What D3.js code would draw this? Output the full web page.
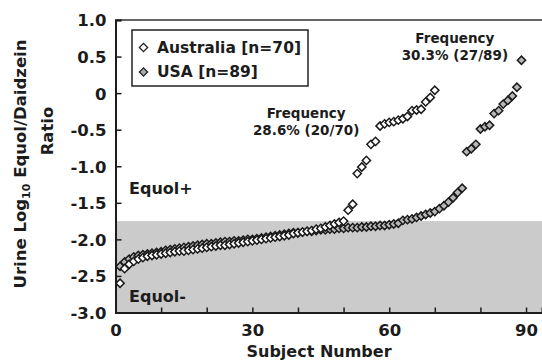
<!DOCTYPE html>
<html>
<head>
<meta charset="utf-8">
<script src="https://cdn.jsdelivr.net/npm/d3@7"></script>
<style>
  body { margin: 0; background: #fff; }
  svg { display: block; font-family: "DejaVu Sans", Verdana, sans-serif; font-weight: bold; }
</style>
</head>
<body>
<svg id="chart" width="542" height="360"></svg>
<script>
// sorted log10 equol/daidzein ratios, one per subject
const australia = [
  -2.60, -2.40, -2.34, -2.30, -2.27, -2.25, -2.23, -2.22, -2.21, -2.20,
  -2.19, -2.18, -2.17, -2.16, -2.16, -2.15, -2.14, -2.13, -2.12, -2.11,
  -2.10, -2.09, -2.08, -2.08, -2.07, -2.06, -2.05, -2.04, -2.03, -2.02,
  -2.01, -2.00, -1.99, -1.98, -1.97, -1.96, -1.95, -1.94, -1.92, -1.91,
  -1.90, -1.89, -1.88, -1.86, -1.85, -1.83, -1.81, -1.79, -1.77, -1.75,
  -1.60, -1.52, -1.10, -1.01, -0.92, -0.70, -0.66, -0.45, -0.42, -0.40,
  -0.39, -0.37, -0.35, -0.32, -0.24, -0.23, -0.22, -0.12, -0.06, 0.04
];
const usa = [
  -2.37, -2.31, -2.27, -2.24, -2.22, -2.21, -2.20, -2.19, -2.18, -2.17,
  -2.15, -2.14, -2.13, -2.12, -2.11, -2.10, -2.09, -2.08, -2.07, -2.06,
  -2.06, -2.05, -2.04, -2.03, -2.03, -2.02, -2.02, -2.01, -2.00, -2.00,
  -1.99, -1.98, -1.97, -1.96, -1.95, -1.94, -1.93, -1.92, -1.91, -1.91,
  -1.90, -1.89, -1.89, -1.88, -1.87, -1.87, -1.86, -1.86, -1.85, -1.85,
  -1.84, -1.84, -1.84, -1.83, -1.83, -1.82, -1.82, -1.81, -1.81, -1.80,
  -1.79, -1.78, -1.74, -1.73, -1.72, -1.70, -1.68, -1.66, -1.64, -1.62,
  -1.58, -1.54, -1.49, -1.43, -1.36, -1.30, -0.80, -0.76, -0.70, -0.49,
  -0.46, -0.44, -0.28, -0.24, -0.15, -0.10, -0.04, 0.08, 0.45
];
const yTicks = [1, 0.5, 0, -0.5, -1, -1.5, -2, -2.5, -3];
const xTicks = [0, 10, 20, 30, 40, 50, 60, 70, 80, 90];
const xLabelled = [0, 30, 60, 90];
const cutoff = -1.75;
const legendItems = ["Australia [n=70]", "USA [n=89]"];
const notes = [
  {x: 41.8, y: -0.34, lines: ["Frequency", "28.6% (20/70)"]},
  {x: 74.4, y: 0.69, lines: ["Frequency", "30.3% (27/89)"]}
];

const svg = d3.select("#chart");
const W = +svg.attr("width"), H = +svg.attr("height");
const padL = 115.5, padT = 20, padR = 542, padB = 312.5;
const ink = "#1c1c1c";

const x = d3.scaleLinear().domain([0, 93.5]).range([padL, padR]);
const y = d3.scaleLinear().domain([-3, 1]).range([padB, padT]);

svg.append("rect").attr("width", W).attr("height", H).attr("fill", "#fff");

// equol- band
svg.append("rect")
  .attr("x", padL).attr("y", y(cutoff))
  .attr("width", padR - padL).attr("height", y(-3) - y(cutoff))
  .attr("fill", "#cbcbcb");

// top frame line
svg.append("line")
  .attr("x1", padL).attr("x2", padR).attr("y1", padT).attr("y2", padT)
  .attr("stroke", "#333").attr("stroke-width", 1.6);

const fmtY = d => d === 0 ? "0" : d3.format(".1f")(d).replace("−", "-");

const yAxis = svg.append("g")
  .attr("transform", `translate(${padL},0)`)
  .call(d3.axisLeft(y).tickValues(yTicks).tickSize(-6).tickPadding(9).tickFormat(fmtY));
yAxis.select(".domain").attr("stroke", ink).attr("stroke-width", 2);
yAxis.selectAll(".tick line").attr("stroke", ink).attr("stroke-width", 1.5);
yAxis.selectAll(".tick text")
  .attr("fill", ink).attr("font-size", 16.5).attr("font-family", "DejaVu Sans")
  .attr("font-weight", "bold").attr("dy", "0.36em");

const xAxis = svg.append("g")
  .attr("transform", `translate(0,${padB})`)
  .call(d3.axisBottom(x).tickValues(xTicks).tickSize(-5).tickPadding(11)
    .tickFormat(d => xLabelled.includes(d) ? d : ""));
xAxis.select(".domain").attr("stroke", ink).attr("stroke-width", 2);
xAxis.selectAll(".tick line").attr("stroke", ink).attr("stroke-width", 1.5);
xAxis.selectAll(".tick text")
  .attr("fill", ink).attr("font-size", 16.5).attr("font-family", "DejaVu Sans")
  .attr("font-weight", "bold").attr("dy", "0.75em");

// axis titles
svg.append("text")
  .attr("x", 319).attr("y", 357)
  .attr("text-anchor", "middle").attr("font-size", 16).attr("fill", ink)
  .text("Subject Number");

const yl = svg.append("text")
  .attr("transform", "translate(26,164) rotate(-90)")
  .attr("text-anchor", "middle").attr("font-size", 16.5).attr("fill", ink);
yl.append("tspan").text("Urine Log");
yl.append("tspan").attr("font-size", 11).attr("dy", 4).text("10");
yl.append("tspan").attr("dy", -4).text(" Equol/Daidzein");
svg.append("text")
  .attr("transform", "translate(53,131) rotate(-90)")
  .attr("text-anchor", "middle").attr("font-size", 16.5).attr("fill", ink)
  .text("Ratio");

svg.append("text").attr("x", 129).attr("y", 194)
  .attr("font-size", 16).attr("fill", ink).text("Equol+");
svg.append("text").attr("x", 129).attr("y", 302)
  .attr("font-size", 16).attr("fill", ink).text("Equol-");

// markers
const diamond = d3.symbol().type(d3.symbolSquare).size(34);
function plotSeries(vals, fill) {
  svg.append("g").selectAll("path")
    .data(vals)
    .join("path")
    .attr("d", diamond)
    .attr("transform", (d, i) => `translate(${x(i + 1)},${y(d)}) rotate(45)`)
    .attr("fill", fill)
    .attr("stroke", "#1a1a1a")
    .attr("stroke-width", 1.5);
}
plotSeries(usa, "#b8b8b8");
plotSeries(australia, "#fff");

// frequency notes
notes.forEach(n => {
  const t = svg.append("text")
    .attr("text-anchor", "middle").attr("font-size", 13.5).attr("fill", ink);
  n.lines.forEach((s, i) => {
    t.append("tspan").attr("x", x(n.x)).attr("y", y(n.y) + i * 17.5).text(s);
  });
});

// legend
const lg = svg.append("g").attr("transform", "translate(132,30)");
lg.append("rect").attr("width", 176).attr("height", 56)
  .attr("fill", "#fff").attr("stroke", "#222").attr("stroke-width", 1.5);
legendItems.forEach((s, i) => {
  lg.append("path").attr("d", diamond)
    .attr("transform", `translate(11.5,${17.5 + i * 24.5}) rotate(45)`)
    .attr("fill", i === 0 ? "#fff" : "#a8a8a8")
    .attr("stroke", "#222").attr("stroke-width", 1.3);
  lg.append("text").attr("x", 25).attr("y", 22.7 + i * 24)
    .attr("font-size", 15.5).attr("fill", ink).text(s);
});
</script>
</body>
</html>
